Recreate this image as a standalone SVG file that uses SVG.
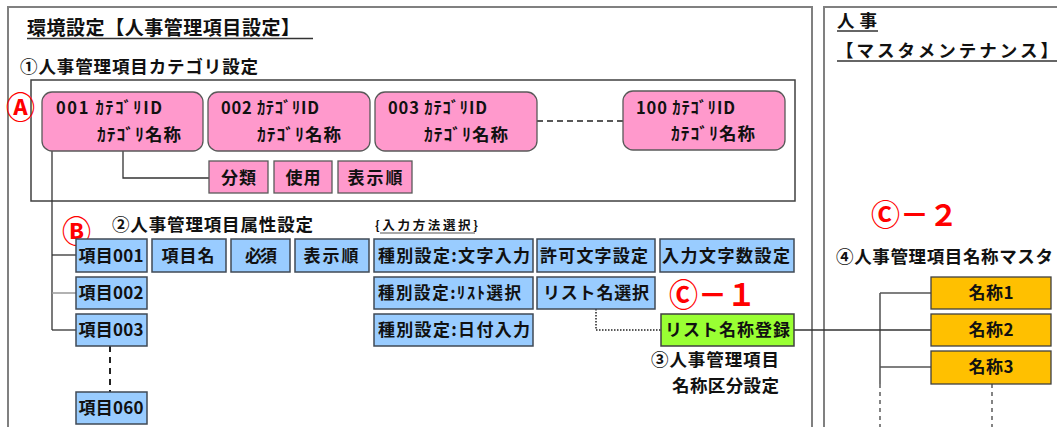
<svg xmlns="http://www.w3.org/2000/svg" width="1057" height="427" viewBox="0 0 1057 427">
<style>
text{font-family:"Noto Sans CJK JP","Noto Sans",sans-serif;font-weight:bold;fill:#111}
.t16{font-size:17.5px}
.t15{font-size:16.5px}
.lbl{font-size:17px;text-anchor:middle}
.pk{fill:#FF99CC;stroke:#595959;stroke-width:1.3}
.bl{fill:#99CCFF;stroke:#404a55;stroke-width:1.5}
.gr{fill:#99FF33;stroke:#404040;stroke-width:1.5}
.or{fill:#FFC000;stroke:#404040;stroke-width:1.3}
.red{fill:#FF0000;font-weight:bold}
.ln{stroke:#333;stroke-width:1.3;fill:none}
.frame{fill:none;stroke:#808080;stroke-width:2}
</style>
<rect x="0" y="0" width="1057" height="427" fill="#fff"/>
<g id="frames">
<rect class="frame" x="8" y="7" width="804" height="440"/>
<rect class="frame" x="824" y="7" width="260" height="440"/>
<rect x="31" y="80" width="764" height="121" fill="none" stroke="#404040" stroke-width="1.5"/>
</g>
<g id="titles">
<text x="27" y="35" font-size="19" textLength="273" lengthAdjust="spacing">環境設定【人事管理項目設定】</text>
<line x1="27" y1="38.5" x2="313" y2="38.5" stroke="#333" stroke-width="1.3"/>
<text x="20" y="73" class="t16" textLength="238" lengthAdjust="spacing">①人事管理項目カテゴリ設定</text>
<text x="112" y="231" class="t16" textLength="201" lengthAdjust="spacing">②人事管理項目属性設定</text>
<text x="375" y="230" font-size="12.5" textLength="103" lengthAdjust="spacing">{入力方法選択}</text>
<line x1="380" y1="233" x2="475" y2="233" stroke="#555" stroke-width="1"/>
<text x="651" y="366" class="t16" textLength="128" lengthAdjust="spacing">③人事管理項目</text>
<text x="672" y="392" class="t16" textLength="107" lengthAdjust="spacing">名称区分設定</text>
<text x="837" y="27" class="t16" textLength="40" lengthAdjust="spacing">人事</text>
<line x1="837" y1="31" x2="878" y2="31" stroke="#333" stroke-width="1.3"/>
<text x="836" y="57" class="t16" textLength="222" lengthAdjust="spacing">【マスタメンテナンス】</text>
<line x1="837" y1="61" x2="1057" y2="61" stroke="#333" stroke-width="1.3"/>
<text x="836" y="263" class="t16" textLength="217" lengthAdjust="spacing">④人事管理項目名称マスタ</text>
</g>
<g id="markers">
<text class="red" x="6" y="118" font-size="30" textLength="29" lengthAdjust="spacingAndGlyphs">Ⓐ</text>
<text class="red" x="62" y="242" font-size="30" textLength="29" lengthAdjust="spacingAndGlyphs">Ⓑ</text>
<text class="red" x="669" y="306" font-size="31" textLength="87" lengthAdjust="spacingAndGlyphs" style="font-family:'Liberation Serif','Noto Sans CJK JP',serif">Ⓒ－１</text>
<text class="red" x="871" y="226" font-size="29" textLength="87" lengthAdjust="spacingAndGlyphs" style="font-family:'Liberation Serif','Noto Sans CJK JP',serif">Ⓒ－２</text>
</g>
<g id="connectors">
<path class="ln" d="M52 151 V330"/>
<path class="ln" d="M52 255 H76"/>
<path d="M52 293 H76" stroke="#999" stroke-width="1.5"/>
<path class="ln" d="M52 330 H76"/>
<path class="ln" d="M123 151 V178 H209"/>
<path d="M537 121 H623" stroke="#222" stroke-width="1.5" stroke-dasharray="6,4"/>
<path d="M110 346 V392" stroke="#222" stroke-width="2" stroke-dasharray="6,5"/>
<path d="M596 309 V330 H661" fill="none" stroke="#222" stroke-width="1.5" stroke-dasharray="1.5,1.5"/>
<path class="ln" d="M794 330 H880"/>
<path class="ln" d="M880 293 V384"/>
<path d="M880 293 H931" stroke="#555" stroke-width="1.3"/>
<path class="ln" d="M880 330 H931"/>
<path d="M880 367 H931" stroke="#555" stroke-width="1.3"/>
<path d="M880 384 V427" stroke="#333" stroke-width="1.2" stroke-dasharray="4,4"/>
<path d="M992 384 V427" stroke="#333" stroke-width="1.2" stroke-dasharray="4,4"/>
</g>
<g id="cat001"><rect class="pk" x="42" y="92" width="161" height="59" rx="10"/>
<text x="56" y="114" class="t15" textLength="106" lengthAdjust="spacing">001 ｶﾃｺﾞﾘID</text>
<text x="97" y="141" class="t16" textLength="84" lengthAdjust="spacing">ｶﾃｺﾞﾘ名称</text></g>
<g id="cat002"><rect class="pk" x="208" y="92" width="162" height="59" rx="10"/>
<text x="221" y="114" class="t15" textLength="98" lengthAdjust="spacing">002 ｶﾃｺﾞﾘID</text>
<text x="257" y="141" class="t16" textLength="84" lengthAdjust="spacing">ｶﾃｺﾞﾘ名称</text></g>
<g id="cat003"><rect class="pk" x="375" y="92" width="162" height="59" rx="10"/>
<text x="388" y="114" class="t15" textLength="99" lengthAdjust="spacing">003 ｶﾃｺﾞﾘID</text>
<text x="424" y="141" class="t16" textLength="84" lengthAdjust="spacing">ｶﾃｺﾞﾘ名称</text></g>
<g id="cat100"><rect class="pk" x="623" y="91" width="162" height="59" rx="10"/>
<text x="636" y="114" class="t15" textLength="99" lengthAdjust="spacing">100 ｶﾃｺﾞﾘID</text>
<text x="671" y="140" class="t16" textLength="84" lengthAdjust="spacing">ｶﾃｺﾞﾘ名称</text></g>
<g id="bunrui"><rect class="pk" x="209" y="161" width="59" height="32"/><text class="lbl" x="238.5" y="184" textLength="35" lengthAdjust="spacing">分類</text></g>
<g id="shiyou"><rect class="pk" x="274" y="161" width="58" height="32"/><text class="lbl" x="303" y="184" textLength="35" lengthAdjust="spacing">使用</text></g>
<g id="hyoujijun1"><rect class="pk" x="338" y="161" width="74" height="32"/><text class="lbl" x="375" y="184" textLength="55" lengthAdjust="spacing">表示順</text></g>
<g id="item001"><rect class="bl" x="76" y="239" width="71" height="33"/><text class="lbl" x="111" y="262" textLength="65" lengthAdjust="spacing">項目001</text></g>
<g id="item002"><rect class="bl" x="76" y="277" width="71" height="32"/><text class="lbl" x="111" y="299" textLength="65" lengthAdjust="spacing">項目002</text></g>
<g id="item003"><rect class="bl" x="76" y="314" width="71" height="32"/><text class="lbl" x="111" y="336" textLength="65" lengthAdjust="spacing">項目003</text></g>
<g id="item060"><rect class="bl" x="76" y="392" width="71" height="32"/><text class="lbl" x="111" y="414" textLength="65" lengthAdjust="spacing">項目060</text></g>
<g id="koumokumei"><rect class="bl" x="152" y="239" width="74" height="33"/><text class="lbl" x="188" y="262" textLength="53" lengthAdjust="spacing">項目名</text></g>
<g id="hissu"><rect class="bl" x="231" y="239" width="59" height="33"/><text class="lbl" x="261" y="262" textLength="32" lengthAdjust="spacing">必須</text></g>
<g id="hyoujijun2"><rect class="bl" x="295" y="239" width="74" height="33"/><text class="lbl" x="331" y="262" textLength="55" lengthAdjust="spacing">表示順</text></g>
<g id="moji"><rect class="bl" x="374" y="239" width="159" height="33"/><text class="lbl" x="454" y="262" textLength="152" lengthAdjust="spacing">種別設定:文字入力</text></g>
<g id="kyoka"><rect class="bl" x="537" y="239" width="118" height="33"/><text class="lbl" x="594" y="262" textLength="108" lengthAdjust="spacing">許可文字設定</text></g>
<g id="mojisu"><rect class="bl" x="660" y="239" width="134" height="33"/><text class="lbl" x="726" y="262" textLength="128" lengthAdjust="spacing">入力文字数設定</text></g>
<g id="list"><rect class="bl" x="374" y="277" width="159" height="32"/><text x="378" y="299" class="t15" textLength="143" lengthAdjust="spacing">種別設定:ﾘｽﾄ選択</text></g>
<g id="listname"><rect class="bl" x="537" y="277" width="118" height="32"/><text class="lbl" x="596" y="299" textLength="106" lengthAdjust="spacing">リスト名選択</text></g>
<g id="date"><rect class="bl" x="374" y="314" width="159" height="32"/><text class="lbl" x="454" y="336" textLength="152" lengthAdjust="spacing">種別設定:日付入力</text></g>
<g id="listreg"><rect class="gr" x="661" y="314" width="133" height="32"/><text class="lbl" x="727.5" y="336" textLength="125" lengthAdjust="spacing">リスト名称登録</text></g>
<g id="name1"><rect class="or" x="931" y="277" width="120" height="32"/><text class="lbl" x="991" y="299" textLength="45" lengthAdjust="spacing">名称1</text></g>
<g id="name2"><rect class="or" x="931" y="314" width="120" height="32"/><text class="lbl" x="991" y="336" textLength="45" lengthAdjust="spacing">名称2</text></g>
<g id="name3"><rect class="or" x="931" y="351" width="120" height="33"/><text class="lbl" x="991" y="373" textLength="45" lengthAdjust="spacing">名称3</text></g>
</svg>
